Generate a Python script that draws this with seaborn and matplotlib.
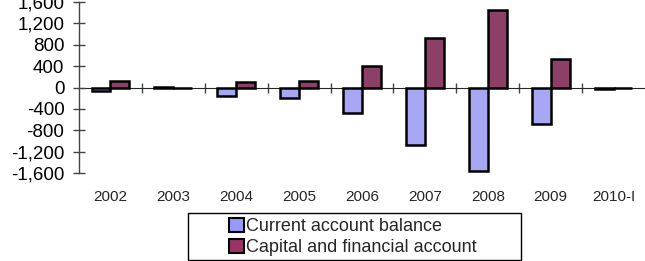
import pandas as pd
import matplotlib
matplotlib.use('Agg')
from matplotlib import pyplot as plt
from matplotlib.ticker import FuncFormatter, FixedLocator, NullFormatter
import seaborn as sns

# chart data
years = ['2002', '2003', '2004', '2005', '2006', '2007', '2008', '2009', '2010-I']
current_account = [-60, 15, -160, -190, -475, -1070, -1570, -675, -30]
capital_financial = [130, -10, 105, 130, 400, 920, 1460, 530, -10]
series_names = ['Current account balance', 'Capital and financial account']
colors = ['#9999FF', '#993366']

df = pd.DataFrame({
    'year': years * 2,
    'value': current_account + capital_financial,
    'series': [series_names[0]] * len(years) + [series_names[1]] * len(years),
})

sns.set_style('white')
plt.rcParams['font.family'] = ['Liberation Sans', 'DejaVu Sans']

fig = plt.figure(figsize=(6.45, 2.61), dpi=100)
ax = fig.add_axes([0.1225, 0.337, 0.8775, 0.655])

sns.barplot(data=df, x='year', y='value', hue='series', palette=colors,
            edgecolor='black', linewidth=1.8, width=0.6, ax=ax, legend=False)

ax.set_ylim(-1600, 1600)
ax.set_xlim(-0.5, len(years) - 0.5)
ax.set_yticks(range(-1600, 1601, 400))
ax.yaxis.set_major_formatter(FuncFormatter(lambda v, p: f'{int(v):,}'))
ax.set_xlabel('')
ax.set_ylabel('')

for side in ['top', 'right', 'bottom']:
    ax.spines[side].set_visible(False)
ax.spines['left'].set_color('#444444')
ax.spines['left'].set_linewidth(1.0)
ax.tick_params(axis='y', direction='inout', length=9, width=1.0, color='#444444',
               labelsize=13.5, pad=6, left=True, labelcolor='black')
ax.tick_params(axis='x', length=0, labelsize=11, pad=12)

# zero line with category separator ticks
zero_ax = ax.secondary_xaxis(0.5)
zero_ax.spines['bottom'].set_color('#444444')
zero_ax.spines['bottom'].set_linewidth(1.0)
zero_ax.xaxis.set_major_locator(FixedLocator([i + 0.5 for i in range(len(years) - 1)]))
zero_ax.xaxis.set_major_formatter(NullFormatter())
zero_ax.tick_params(axis='x', direction='inout', length=7, width=1.0, color='#444444',
                    labelbottom=False, labeltop=False)

# legend with a wide box around it
handles = [plt.Rectangle((0, 0), 1, 1, facecolor=c, edgecolor='black', linewidth=1.5)
           for c in colors]
leg = fig.legend(handles, series_names, loc='center', bbox_to_anchor=(0.547, 0.092),
                 ncol=1, frameon=False, fontsize=13, handlelength=0.85,
                 handleheight=0.85, handletextpad=0.12, borderpad=0, labelspacing=0.22,
                 borderaxespad=0)
leg._legend_box.align = 'left'
fig.patches.append(plt.Rectangle((188 / 645, 1 / 261), 333 / 645, 47 / 261,
                                 transform=fig.transFigure, fill=False,
                                 edgecolor='black', linewidth=1.0))

fig.savefig('out.png', dpi=100)
